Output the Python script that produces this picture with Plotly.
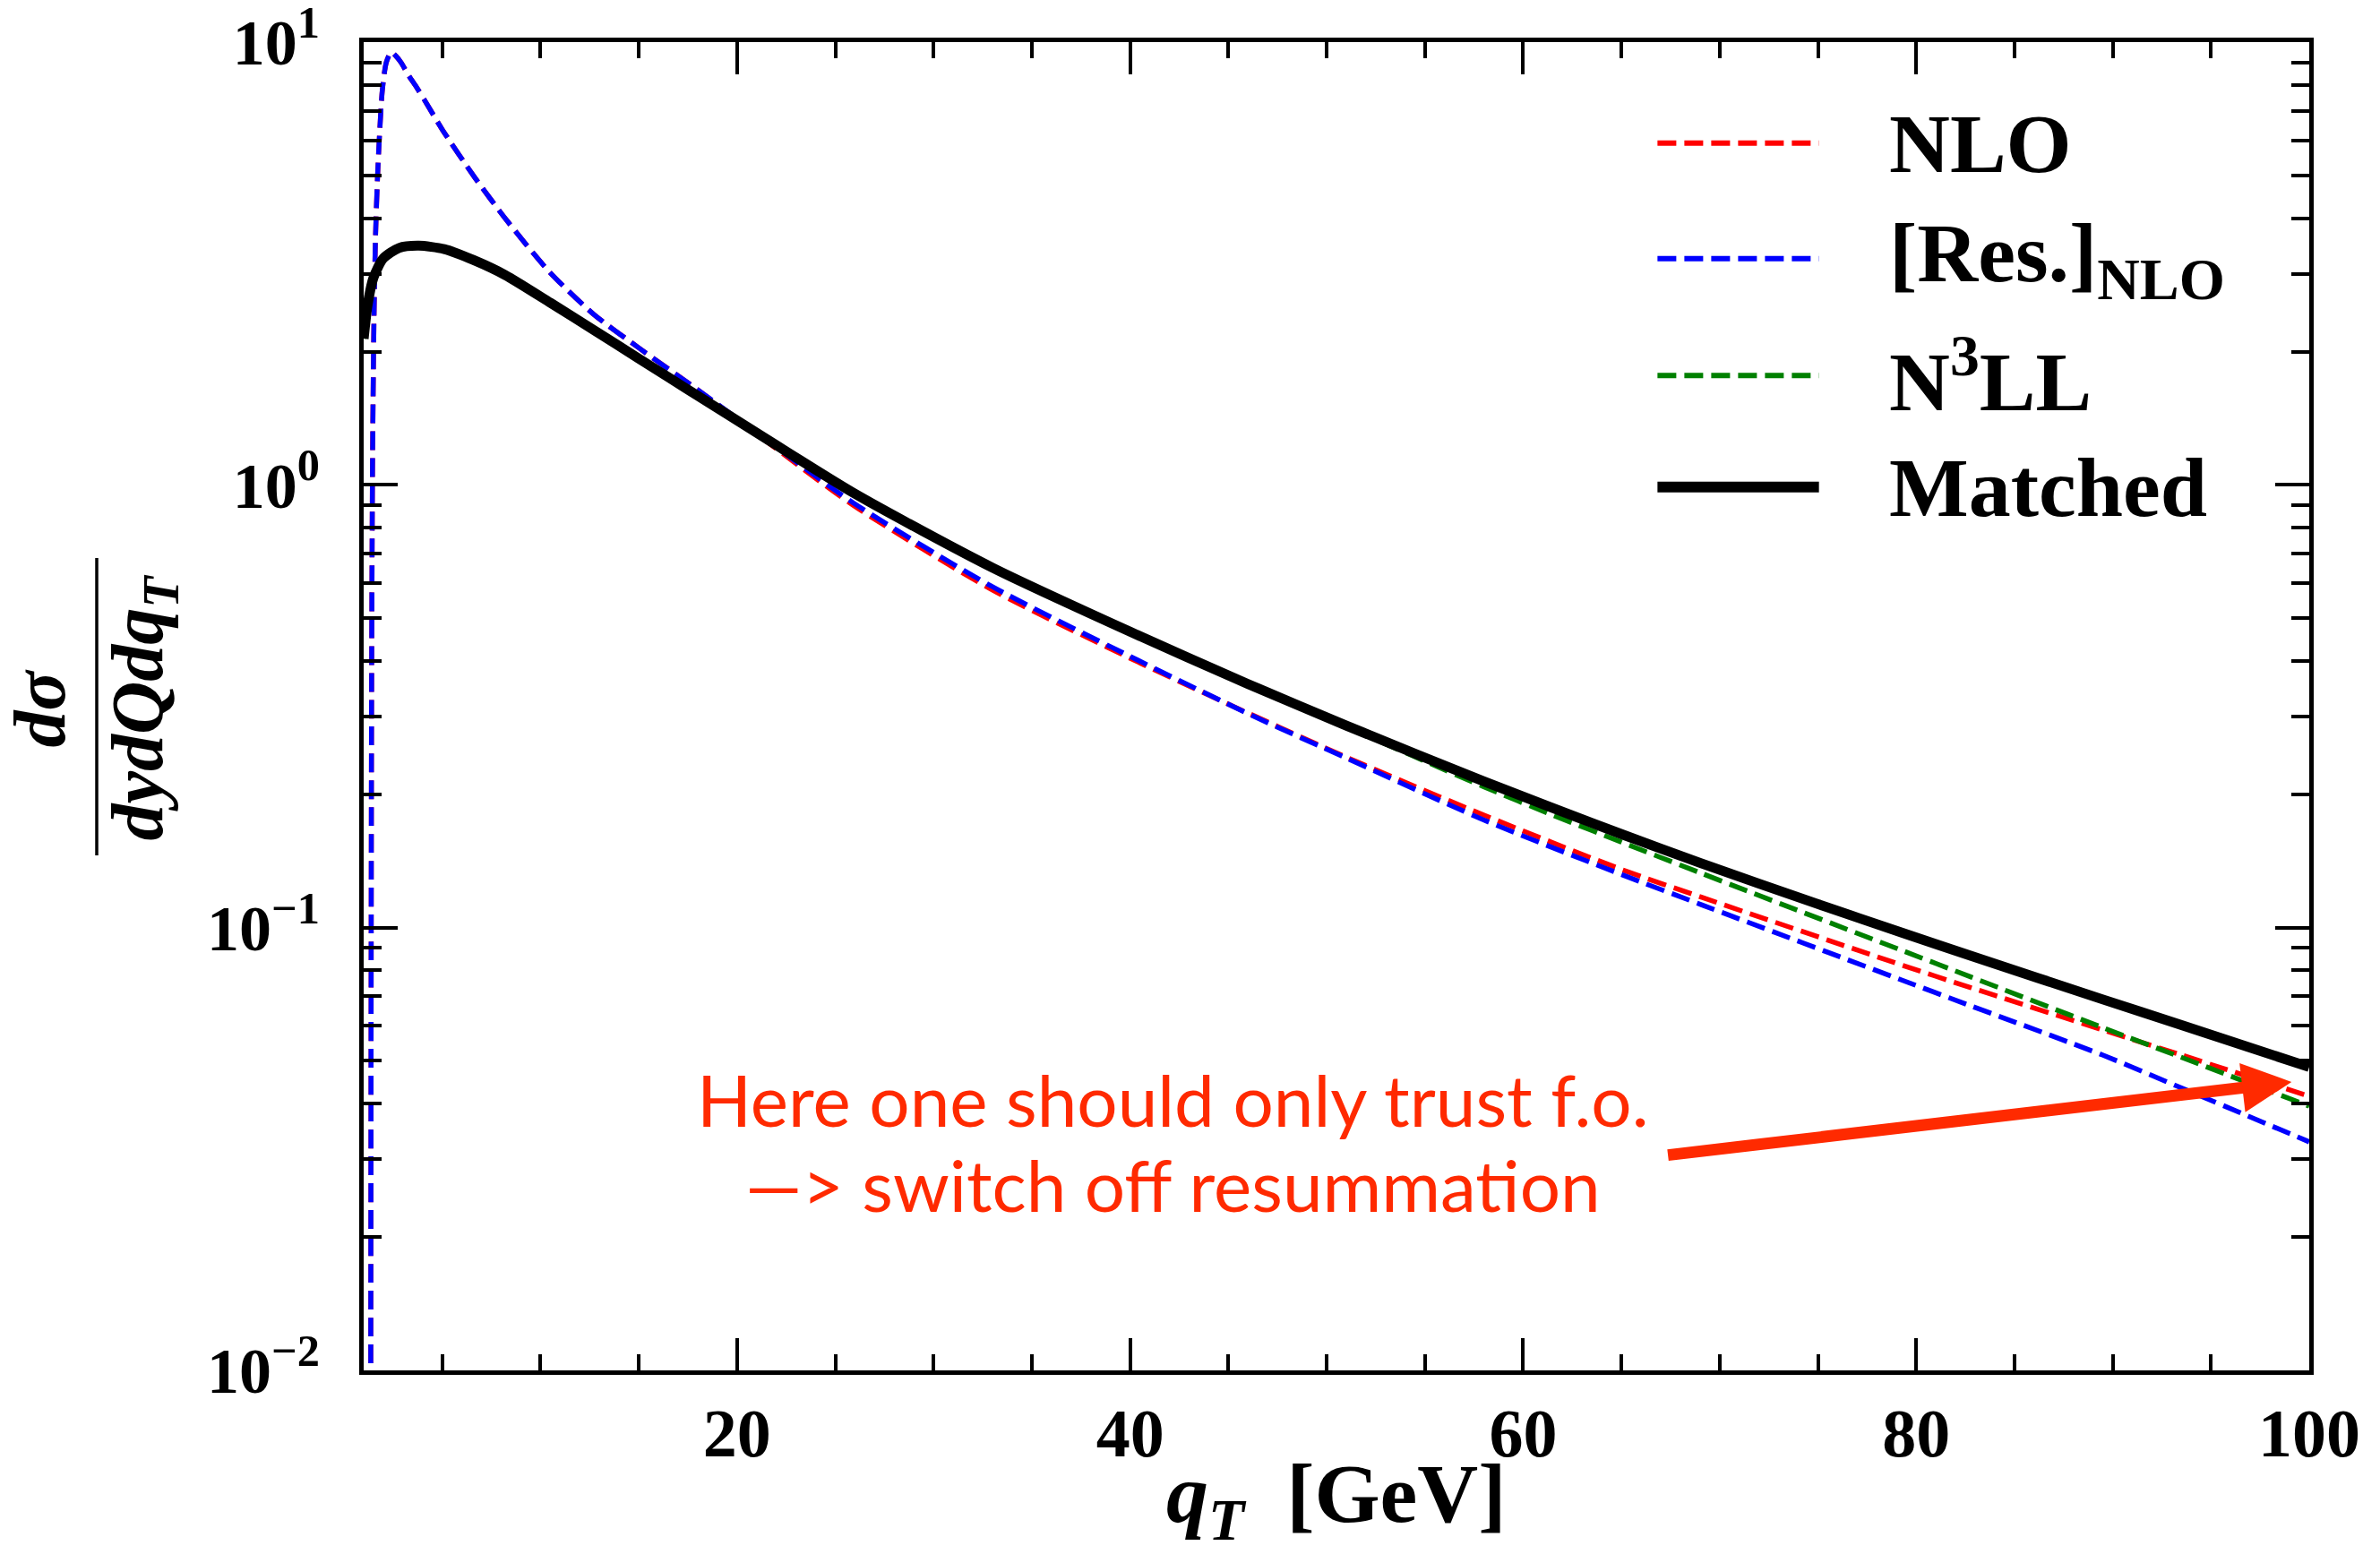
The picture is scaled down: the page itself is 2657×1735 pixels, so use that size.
import numpy as np
import plotly.graph_objects as go

# ---------------- data ----------------
qt_res = [1.36, 1.40, 1.45, 1.52, 1.60, 1.70, 1.80, 1.95, 2.15, 2.4, 2.65, 2.9, 3.3, 3.7, 4.1,
          5.0, 6.65, 8.3, 10.45, 12.7, 15, 18, 21.8, 25.9, 32.9, 39.9, 46.3, 51, 58, 65,
          69.1, 79.3, 82.8, 89.5, 93.4, 100]
res_nlo = [0.009, 0.3, 1.1, 2.3, 3.6, 4.9, 6.1, 7.8, 9.0, 9.5, 9.3, 9.0, 8.4, 7.9, 7.4,
           6.35, 4.95, 3.95, 3.03, 2.43, 2.04, 1.64, 1.235, 0.912, 0.592, 0.412, 0.300, 0.2415, 0.175, 0.1318,
           0.1125, 0.0760, 0.0665, 0.0515, 0.0436, 0.0328]

qt_nlo = [1.36, 1.40, 1.45, 1.52, 1.60, 1.70, 1.80, 1.95, 2.15, 2.4, 2.65, 2.9, 3.3, 3.7, 4.1,
          5.0, 6.65, 8.3, 10.45, 12.7, 15, 18, 21.8, 25.9, 32.9, 39.9, 44, 51, 58, 65,
          69.1, 79.3, 82.8, 89.5, 93.4, 100]
nlo = [0.009, 0.3, 1.1, 2.3, 3.6, 4.9, 6.1, 7.8, 9.0, 9.5, 9.3, 9.0, 8.4, 7.9, 7.4,
       6.35, 4.95, 3.95, 3.03, 2.43, 2.04, 1.64, 1.225, 0.90, 0.582, 0.408, 0.335, 0.2427, 0.1795, 0.1353,
       0.117, 0.0822, 0.0731, 0.0587, 0.0517, 0.0416]

qt_match = [1.0, 1.2, 1.5, 2.0, 2.8, 3.8, 5.1, 6.6, 8.2, 10.5, 12.7, 15, 18, 21.5, 26, 33, 40,
            46, 51, 58, 65, 69, 75, 79.3, 82.8, 89.5, 93.4, 100]
matched = [2.14, 2.55, 2.94, 3.25, 3.43, 3.47, 3.41, 3.22, 2.98, 2.58, 2.24, 1.93, 1.59, 1.27, 0.955,
           0.650, 0.466, 0.355, 0.286, 0.214, 0.1626, 0.140, 0.113, 0.0973, 0.0863, 0.0688, 0.0604, 0.0484]

qt_n3ll = [1.0, 1.2, 1.5, 2.0, 2.8, 3.8, 5.1, 6.6, 8.2, 10.5, 12.7, 15, 18, 21.5, 26, 33, 40,
           46, 51, 54.5, 58, 61.5, 65, 69, 71.4, 79.3, 82.8, 89.5, 93.4, 100]
n3ll = [2.14, 2.55, 2.94, 3.25, 3.43, 3.47, 3.41, 3.22, 2.98, 2.58, 2.24, 1.93, 1.59, 1.27, 0.955,
        0.650, 0.466, 0.355, 0.284, 0.243, 0.208, 0.1795, 0.156, 0.133, 0.121, 0.0887, 0.0773, 0.0594, 0.0511, 0.0395]

x_tick_vals = [20, 40, 60, 80, 100]
x_tick_text = ["20", "40", "60", "80", "100"]
x_minor_vals = [v for v in range(5, 100, 5) if v % 20 != 0]
y_tick_vals = [0.01, 0.1, 1, 10]
y_tick_text = ["10<sup>\u22122</sup>", "10<sup>\u22121</sup>", "10<sup>0</sup>", "10<sup>1</sup>"]
y_minor_vals = [m * 10.0 ** e for e in (-2, -1, 0) for m in range(2, 10)]

series_names = ["NLO", "[Res.]<sub>NLO</sub>", "N<sup>3</sup>LL", "Matched"]
series_colors = ["#ff0000", "#0000ff", "#008000", "#000000"]
series_dash = ["21px,9px", "21px,9px", "21px,9px", "solid"]
series_width = [5.5, 5.5, 5.5, 11]

arrow_tip = (99.1, 0.0448)
arrow_tail = (67.3, 0.0306)
note_lines = ["Here one should only trust f.o.", "\u2014> switch off resummation"]
note_color = "#ff2a00"

SERIF = "Liberation Serif"

# ---------------- figure ----------------
fig = go.Figure()
data_x = [qt_nlo, qt_res, qt_n3ll, qt_match]
data_y = [nlo, res_nlo, n3ll, matched]
for xs, ys, name, col, dash, w in zip(data_x, data_y, series_names, series_colors, series_dash, series_width):
    fig.add_trace(go.Scatter(x=xs, y=ys, mode="lines", name=name,
                             line=dict(color=col, dash=dash, width=w, shape="spline", smoothing=0.7),
                             showlegend=False))

fig.update_layout(
    width=2657, height=1735,
    margin=dict(l=406, r=79, t=47, b=205, autoexpand=False),
    plot_bgcolor="white", paper_bgcolor="white",
    showlegend=False,
)

axis_common = dict(showline=True, linewidth=4.5, linecolor="black", mirror="allticks",
                   ticks="inside", tickwidth=4, tickcolor="black", showgrid=False, zeroline=False,
                   ticklabeloverflow="allow", automargin=False)

fig.update_xaxes(range=[1, 100], tickmode="array", tickvals=x_tick_vals, ticktext=x_tick_text,
                 ticklen=36, tickfont=dict(family=SERIF, size=76, color="black", weight="bold"),
                 minor=dict(tickvals=x_minor_vals, ticklen=18, tickwidth=3.5, ticks="inside",
                            tickcolor="black", showgrid=False),
                 ticklabelstandoff=0,
                 **axis_common)
fig.update_yaxes(type="log", range=[-2.0004, 1.0004], tickmode="array", tickvals=y_tick_vals,
                 ticktext=y_tick_text,
                 ticklen=38, tickfont=dict(family=SERIF, size=72, color="black", weight="bold"),
                 minor=dict(tickvals=y_minor_vals, ticklen=20, tickwidth=3.5, ticks="inside",
                            tickcolor="black", showgrid=False),
                 ticklabelstandoff=30,
                 **axis_common)

# x-axis title
fig.add_annotation(xref="paper", yref="paper", x=0.5, y=-0.097, xanchor="center", yanchor="middle",
                   showarrow=False,
                   text="<b><i>q</i><sub><i>T</i></sub>  [GeV]</b>",
                   font=dict(family=SERIF, size=94, color="black"))

# y-axis title as a fraction
fig.add_annotation(xref="paper", yref="paper", x=-0.166, y=0.499, xanchor="center", yanchor="middle",
                   showarrow=False, textangle=-90, text="<b><i>d\u03c3</i></b>",
                   font=dict(family=SERIF, size=82, color="black"))
fig.add_annotation(xref="paper", yref="paper", x=-0.1135, y=0.499, xanchor="center", yanchor="middle",
                   showarrow=False, textangle=-90, text="<b><i>dydQdq<sub>T</sub></i></b>",
                   font=dict(family=SERIF, size=82, color="black"))
fig.add_shape(type="line", xref="paper", yref="paper", x0=-0.1372, x1=-0.1372, y0=0.3877, y1=0.6116,
              line=dict(color="black", width=3.5))

# manual legend (long line samples as in the reference)
leg_rows_y = [0.924, 0.837, 0.749, 0.665]
for name, col, dash, w, ry in zip(series_names, series_colors, series_dash, series_width, leg_rows_y):
    fig.add_shape(type="line", xref="paper", yref="paper", x0=0.665, x1=0.748, y0=ry, y1=ry,
                  line=dict(color=col, dash=dash, width=6 if w < 10 else 12))
    fig.add_annotation(xref="paper", yref="paper", x=0.783, y=ry, xanchor="left", yanchor="middle",
                       showarrow=False, text="<b>" + name + "</b>",
                       font=dict(family=SERIF, size=94, color="black"))

# red arrow + note
fig.add_annotation(x=arrow_tip[0], y=np.log10(arrow_tip[1]), xref="x", yref="y",
                   ax=arrow_tail[0], ay=np.log10(arrow_tail[1]), axref="x", ayref="y",
                   showarrow=True, arrowhead=2, arrowsize=0.85, arrowwidth=13, arrowcolor=note_color,
                   text="")
note_y = [0.2045, 0.14]
for line_txt, ny in zip(note_lines, note_y):
    fig.add_annotation(xref="paper", yref="paper", x=0.416, y=ny, xanchor="center", yanchor="middle",
                       showarrow=False, text=line_txt,
                       font=dict(family="Lato", size=80, color=note_color))

fig.write_html("out.html")
